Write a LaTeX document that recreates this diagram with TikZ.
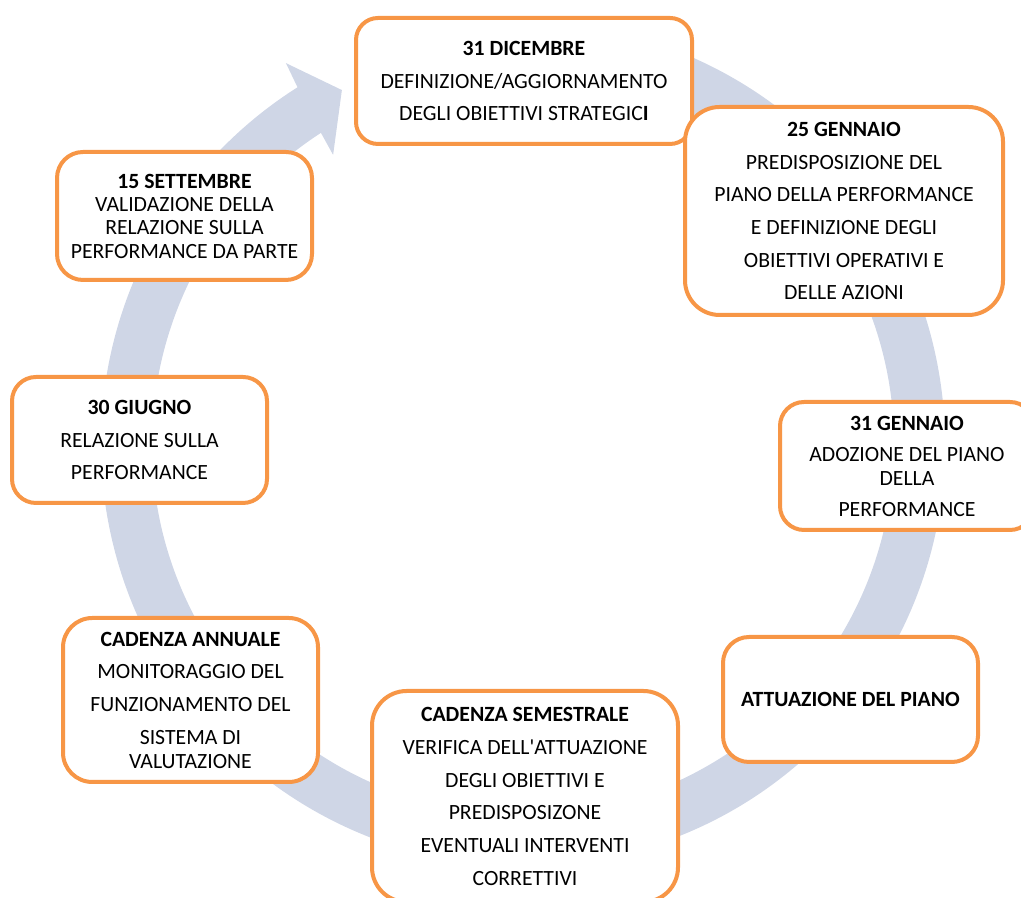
\documentclass[tikz,border=0pt]{standalone}
\usepackage{fontspec}
\setmainfont{Carlito}
\definecolor{band}{HTML}{CFD6E6}
\definecolor{orng}{HTML}{F79646}
\begin{document}
\begin{tikzpicture}[x=0.75pt,y=0.75pt,
  box/.style={draw=orng, line width=3pt, fill=white, align=center, inner sep=0pt,
    font=\fontsize{16.3}{24.5}\selectfont},
]
\useasboundingbox (0,0) rectangle (1021,898);
\coordinate (C) at (523,454);
% circular arrow
\fill[band] ([shift={(C)}]100:316.5pt) arc[start angle=100, end angle=-237.7, radius=316.5pt]
  -- ([shift={(C)}]121.9:336.5pt) -- ([shift={(C)}]117.1:298.2pt)
  -- ([shift={(C)}]123.3:259.4pt) -- ([shift={(C)}]123.0:278.25pt)
  arc[start angle=-237, end angle=100, radius=278.25pt] -- cycle;
% boxes
\node[box, minimum width=252pt, minimum height=94.5pt, rounded corners=16.5pt] (dic31) at (524,817)
  {\textbf{31 DICEMBRE}\\DEFINIZIONE/AGGIORNAMENTO\\DEGLI OBIETTIVI STRATEGIC\textbf{I}};
\node[box, minimum width=238.5pt, minimum height=156pt, rounded corners=26pt] (gen25) at (844,687)
  {\textbf{25 GENNAIO}\\PREDISPOSIZIONE DEL\\PIANO DELLA PERFORMANCE\\E DEFINIZIONE DEGLI\\OBIETTIVI OPERATIVI E\\DELLE AZIONI};
\node[box, minimum width=191.25pt, minimum height=96pt, rounded corners=19.5pt,
  font=\fontsize{16.3}{17.5}\selectfont] (set15) at (184.5,682)
  {\textbf{15 SETTEMBRE}\\VALIDAZIONE DELLA\\RELAZIONE SULLA\\PERFORMANCE DA PARTE};
\node[box, minimum width=191.25pt, minimum height=94.5pt, rounded corners=18pt] (giu30) at (139.5,458)
  {\textbf{30 GIUGNO}\\RELAZIONE SULLA\\PERFORMANCE};
\node[box, minimum width=190.5pt, minimum height=96pt, rounded corners=18pt] (gen31) at (907,432)
  {\textbf{31 GENNAIO}\\[-1.25pt]ADOZIONE DEL PIANO\\[-6.5pt]DELLA\\[-1.25pt]PERFORMANCE};
\node[box, minimum width=191.25pt, minimum height=93.75pt, rounded corners=19.5pt] (att) at (850.5,198.5)
  {\textbf{ATTUAZIONE DEL PIANO}};
\node[box, minimum width=191.25pt, minimum height=123pt, rounded corners=22pt] (ann) at (190.5,198)
  {\textbf{CADENZA ANNUALE}\\MONITORAGGIO DEL\\FUNZIONAMENTO DEL\\SISTEMA DI\\[-6.5pt]VALUTAZIONE};
\node[box, minimum width=229.5pt, minimum height=158.25pt, rounded corners=26pt] (sem) at (525,101.5)
  {\textbf{CADENZA SEMESTRALE}\\VERIFICA DELL\textquotesingle ATTUAZIONE\\DEGLI OBIETTIVI E\\PREDISPOSIZONE\\EVENTUALI INTERVENTI\\CORRETTIVI};
\end{tikzpicture}
\end{document}
